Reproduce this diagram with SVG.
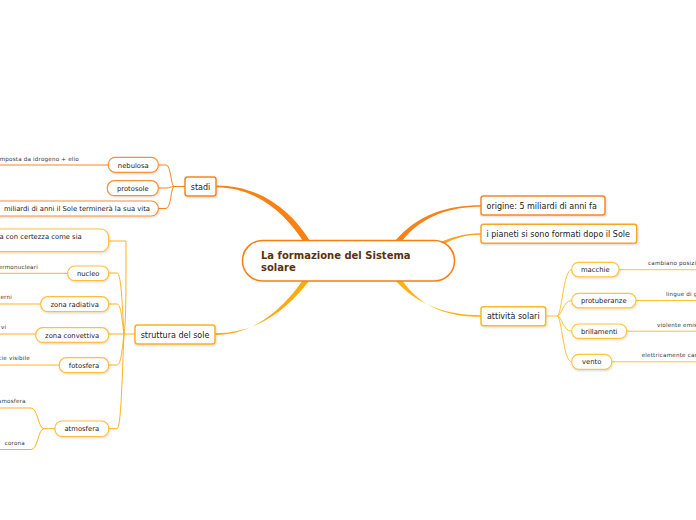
<svg xmlns="http://www.w3.org/2000/svg" width="696" height="520" viewBox="0 0 696 520">
<defs>
<filter id="sh" x="-10%" y="-20%" width="130%" height="160%"><feDropShadow dx="0.8" dy="1" stdDeviation="0.8" flood-color="#000" flood-opacity="0.15"/></filter>
</defs>
<style>
.n1{fill:#fff;stroke-width:1.5;filter:url(#sh)}
.n2{fill:#fff;stroke-width:1.2;filter:url(#sh)}
.t1{font-family:"DejaVu Sans",Verdana,sans-serif;font-size:8px;fill:#222}
.t2{font-family:"DejaVu Sans",Verdana,sans-serif;font-size:6.8px;fill:#222}
.t3{font-family:"DejaVu Sans",Verdana,sans-serif;font-size:5.6px;fill:#333;letter-spacing:0.2px}
.c{fill:none;stroke-width:1}
.o{stroke:#f7861c}
.oy{stroke:#fba520}
.y{stroke:#fbb41e}
.yl{stroke:#fcc334}
</style>
<rect width="696" height="520" fill="#fff"/>
<g id="connectors">
<!-- main tapered branches -->
<path d="M216 185.5 C262 185.5 292 212 310 241 L303 241 C287 216 258 187.2 216 187.2 Z" fill="#f98012"/>
<path d="M215 333.2 C262 333.2 290 305 310 280 L303 280 C287 303 258 335 215 335 Z" fill="#fbab10"/>
<path d="M395 241 C418 214 448 205.2 481 205.2 L481 206.8 C450 206.8 422 216 402 241 Z" fill="#f8821a"/>
<path d="M438 243 C452 237 465 233.2 481 233.2 L481 234.8 C466 234.8 455 238 446 243 Z" fill="#fba21e"/>
<path d="M395 280 C418 306 448 315.2 481 315.2 L481 316.8 C450 316.8 422 309 402 280 Z" fill="#fcb318"/>
<!-- stadi children -->
<path class="c o" d="M185 186.5 H174"/>
<path class="c o" d="M174 186.5 C171 186.5 171 165 166 165 H158.3"/>
<path class="c o" d="M174 186.5 C171 186.5 170 188 166 188 H158.3"/>
<path class="c o" d="M174 186.5 C171 186.5 171 208.5 166 208.5 H158.3"/>
<path class="c o" d="M108.3 165 H0"/>
<!-- struttura children -->
<path class="c y" d="M135 334 H124"/>
<path class="c y" d="M124 334 C126 320 126 300 126 241 H108.7"/>
<path class="c y" d="M124 334 C122 300 121 273 117 273 H108.7"/>
<path class="c y" d="M124 334 C122 320 121 304 117 304 H108.7"/>
<path class="c y" d="M124 334 H108.7"/>
<path class="c y" d="M124 334 C122 350 121 365 117 365 H108.7"/>
<path class="c y" d="M124 334 C122 380 121 428.7 117 428.7 H108.7"/>
<path class="c y" d="M67.7 273.3 H0"/>
<path class="c y" d="M40.7 304 H0"/>
<path class="c y" d="M35.7 334 H0"/>
<path class="c y" d="M59.3 365 H0"/>
<path class="c y" d="M55 428.7 H44 C38 428.7 38 408 31 408 H0"/>
<path class="c y" d="M44 428.7 C38 428.7 38 449.5 31 449.5 H0"/>
<!-- attivita children -->
<path class="c yl" d="M545.7 316 H557"/>
<path class="c yl" d="M557 316 C562 316 563 269.7 571.7 269.7"/>
<path class="c yl" d="M557 316 C562 316 563 300.5 571.7 300.5"/>
<path class="c yl" d="M557 316 C562 316 563 331.2 571.7 331.2"/>
<path class="c yl" d="M557 316 C562 316 563 361.8 571.7 361.8"/>
<path class="c yl" d="M619 269.7 H696"/>
<path class="c yl" d="M636 300.5 H696"/>
<path class="c yl" d="M626.7 331.2 H696"/>
<path class="c yl" d="M611.7 361.8 H696"/>
</g>
<g id="center">
<rect x="242.5" y="240.5" width="212" height="40.5" rx="20" fill="#fff" stroke="#f97f12" stroke-width="1.5"/>
<text x="261" y="259" font-family="DejaVu Sans,Verdana,sans-serif" font-size="10" font-weight="bold" fill="#5a320d">La formazione del Sistema</text>
<text x="261" y="271" font-family="DejaVu Sans,Verdana,sans-serif" font-size="10" font-weight="bold" fill="#5a320d">solare</text>
</g>
<g id="stadi">
<rect class="n1" x="185" y="177" width="31" height="19" rx="2.5" stroke="#f7861c"/>
<text class="t1" x="200.5" y="189.5" text-anchor="middle">stadi</text>
</g>
<g id="nebulosa">
<rect class="n2" x="108.3" y="157.3" width="50" height="15" rx="7" stroke="#f7923a"/>
<text class="t2" x="133.3" y="167.5" text-anchor="middle">nebulosa</text>
<text class="t3" x="79" y="160.5" text-anchor="end">mposta da idrogeno + elio</text>
</g>
<g id="protosole">
<rect class="n2" x="107.3" y="180.7" width="51" height="15" rx="7" stroke="#f7923a"/>
<text class="t2" x="132.8" y="190.8" text-anchor="middle">protosole</text>
</g>
<g id="fine">
<rect class="n2" x="-20" y="201" width="178.3" height="15" rx="7" stroke="#f7923a"/>
<text class="t2" x="150" y="211.2" text-anchor="end">miliardi di anni il Sole terminerà la sua vita</text>
</g>
<g id="struttura">
<rect class="n1" x="135" y="325" width="80" height="19" rx="2.5" stroke="#fbb01f"/>
<text class="t1" x="175" y="337.5" text-anchor="middle">struttura del sole</text>
</g>
<g id="certezza">
<rect class="n2" x="-20" y="229" width="128.7" height="22.7" rx="8" stroke="#fcc040"/>
<text class="t2" x="81.7" y="239" text-anchor="end">a con certezza come sia</text>
</g>
<g id="nucleo">
<rect class="n2" x="67.7" y="266" width="41" height="14.7" rx="7" stroke="#fcc040"/>
<text class="t2" x="88.2" y="275.8" text-anchor="middle">nucleo</text>
<text class="t3" x="38" y="268.5" text-anchor="end">ermonucleari</text>
</g>
<g id="radiativa">
<rect class="n2" x="40.7" y="296.7" width="68" height="15" rx="7" stroke="#fcc040"/>
<text class="t2" x="74.7" y="306.8" text-anchor="middle">zona radiativa</text>
<text class="t3" x="12" y="299.2" text-anchor="end">erni</text>
</g>
<g id="convettiva">
<rect class="n2" x="35.7" y="327.7" width="73" height="14.7" rx="7" stroke="#fcc040"/>
<text class="t2" x="72.2" y="337.5" text-anchor="middle">zona convettiva</text>
<text class="t3" x="6.3" y="328.5" text-anchor="end">vi</text>
</g>
<g id="fotosfera">
<rect class="n2" x="59.3" y="357.7" width="49.4" height="15" rx="7" stroke="#fcc040"/>
<text class="t2" x="84" y="367.8" text-anchor="middle">fotosfera</text>
<text class="t3" x="30" y="360" text-anchor="end">cie visibile</text>
</g>
<g id="atmosfera">
<rect class="n2" x="55" y="421" width="53.7" height="15.5" rx="7" stroke="#fcc040"/>
<text class="t2" x="81.8" y="431.3" text-anchor="middle">atmosfera</text>
<text class="t3" x="25.7" y="402.7" text-anchor="end">amosfera</text>
<text class="t3" x="25" y="445" text-anchor="end">corona</text>
</g>
<g id="origine">
<rect class="n1" x="481" y="196" width="124" height="19" rx="2.5" stroke="#f8862a"/>
<text class="t1" x="486.5" y="208.5">origine: 5 miliardi di anni fa</text>
</g>
<g id="pianeti">
<rect class="n1" x="481" y="224.3" width="155.7" height="19" rx="2.5" stroke="#fca425"/>
<text class="t1" x="486.5" y="236.8">i pianeti si sono formati dopo il Sole</text>
</g>
<g id="attivita">
<rect class="n1" x="481" y="306.7" width="64.7" height="19" rx="2.5" stroke="#fbbb25"/>
<text class="t1" x="513.3" y="319" text-anchor="middle">attività solari</text>
</g>
<g id="macchie">
<rect class="n2" x="571.7" y="262.3" width="47.3" height="14.5" rx="7" stroke="#fcc63a"/>
<text class="t2" x="595.3" y="272" text-anchor="middle">macchie</text>
<text class="t3" x="648" y="264.5">cambiano posizi</text>
</g>
<g id="protuberanze">
<rect class="n2" x="571.7" y="293.3" width="64.3" height="14.5" rx="7" stroke="#fcc63a"/>
<text class="t2" x="603.8" y="303" text-anchor="middle">protuberanze</text>
<text class="t3" x="666" y="295.5">lingue di g</text>
</g>
<g id="brillamenti">
<rect class="n2" x="571.7" y="324" width="55" height="14.4" rx="7" stroke="#fcc63a"/>
<text class="t2" x="599.2" y="333.7" text-anchor="middle">brillamenti</text>
<text class="t3" x="657" y="326.5">violente emis</text>
</g>
<g id="vento">
<rect class="n2" x="571.7" y="354.3" width="40" height="15" rx="7" stroke="#fcc63a"/>
<text class="t2" x="591.7" y="364.3" text-anchor="middle">vento</text>
<text class="t3" x="641.7" y="356.5">elettricamente car</text>
</g>
</svg>
